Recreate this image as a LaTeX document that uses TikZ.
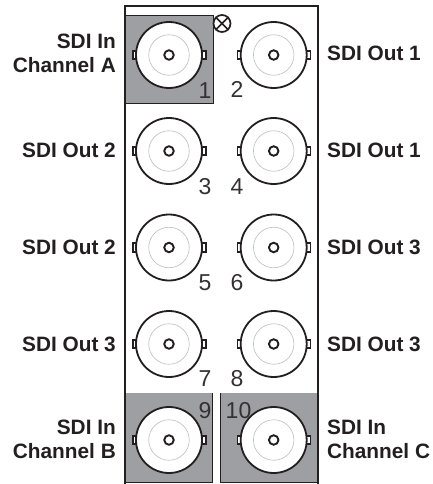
\documentclass[tikz,border=0pt]{standalone}
\usepackage{fontspec}
\setmainfont{Liberation Sans}
\definecolor{panelgray}{HTML}{9D9FA2}
\definecolor{ringgray}{HTML}{BCBEC4}
\definecolor{inkc}{HTML}{231F20}
\tikzset{
  graybox/.style={fill=panelgray,draw=inkc,line width=0.6pt},
  lab/.style={font=\fontsize{20.8}{24.5}\selectfont\bfseries,text=inkc,align=right,inner sep=0pt},
  labl/.style={font=\fontsize{20.8}{24.5}\selectfont\bfseries,text=inkc,align=left,inner sep=0pt},
  num/.style={font=\fontsize{23}{25}\selectfont,text=inkc!92,inner sep=0pt},
  panelline/.style={draw=inkc,line width=1.9pt}
}
\newcommand{\bnc}[3]{%
  \draw[inkc,line width=1.9pt,fill=white] (#1-36.2,#2-4.4) rectangle (#1-30,#2+4.4);
  \draw[inkc,line width=1.9pt,fill=white] (#1+30,#2-4.4) rectangle (#1+36.8,#2+4.4);
  \node[circle,fill=white,draw=inkc,line width=1.8pt,minimum size=66pt,inner sep=0pt] (#3) at (#1,#2) {};
  \node[circle,draw=ringgray,line width=0.6pt,minimum size=40.5pt,inner sep=0pt] (#3r) at (#1,#2) {};
  \node[circle,draw=inkc,line width=1.9pt,minimum size=9.5pt,inner sep=0pt] (#3c) at (#1,#2) {};
}
\begin{document}
\begin{tikzpicture}[x=1pt,y=-1pt]
\useasboundingbox (0,0) rectangle (433,484);
\node[graybox,minimum width=88pt,minimum height=88.5pt,inner sep=0pt,anchor=north west] (ga) at (124.7,15) {};
\node[graybox,draw=none,minimum width=88pt,minimum height=88.5pt,inner sep=0pt,anchor=north west] (gb) at (124.7,393) {};
\node[graybox,draw=none,minimum width=97.3pt,minimum height=88.5pt,inner sep=0pt,anchor=north west] (gc) at (220.7,393) {};
\draw[panelline] (124.7,484) -- (124.7,6) -- (318,6) -- (318,484);
\draw[inkc,line width=0.7pt] (212.7,393) -- (212.7,482) -- (124.7,482);
\draw[inkc,line width=0.7pt] (318,482) -- (220.7,482) -- (220.7,393);
\bnc{169}{55}{a}\bnc{273.7}{55}{b}
\bnc{169}{151}{c}\bnc{273.7}{151}{d}
\bnc{169}{247.5}{e}\bnc{273.7}{247.5}{f}
\bnc{169}{344}{g}\bnc{273.7}{344}{h}
\bnc{169}{440}{i}\bnc{273.7}{440}{j}
\node[circle,draw=inkc,fill=white,line width=1.7pt,minimum size=17pt,inner sep=0pt] (x) at (222,23.5) {};
\draw[inkc,line width=1.7pt] (x.45) -- (x.225) (x.135) -- (x.315);
\node[num] at (205,91) {1};
\node[num] at (237,89.5) {2};
\node[num] at (205,187) {3};
\node[num] at (237,187) {4};
\node[num] at (205,283) {5};
\node[num] at (237,283) {6};
\node[num] at (205,379) {7};
\node[num] at (237,379) {8};
\node[num] at (205,411) {9};
\node[num] at (238.5,411) {10};
\node[lab,anchor=east] at (116,53.5) {SDI In\\Channel A};
\node[lab,anchor=east] at (116,150.5) {SDI Out 2};
\node[lab,anchor=east] at (116,247.5) {SDI Out 2};
\node[lab,anchor=east] at (116,344) {SDI Out 3};
\node[lab,anchor=east] at (116,439.5) {SDI In\\Channel B};
\node[labl,anchor=west] at (327,53.5) {SDI Out 1};
\node[labl,anchor=west] at (327,150.5) {SDI Out 1};
\node[labl,anchor=west] at (327,247.5) {SDI Out 3};
\node[labl,anchor=west] at (327,344) {SDI Out 3};
\node[labl,anchor=west] at (327,439.5) {SDI In\\Channel C};
\end{tikzpicture}
\end{document}
